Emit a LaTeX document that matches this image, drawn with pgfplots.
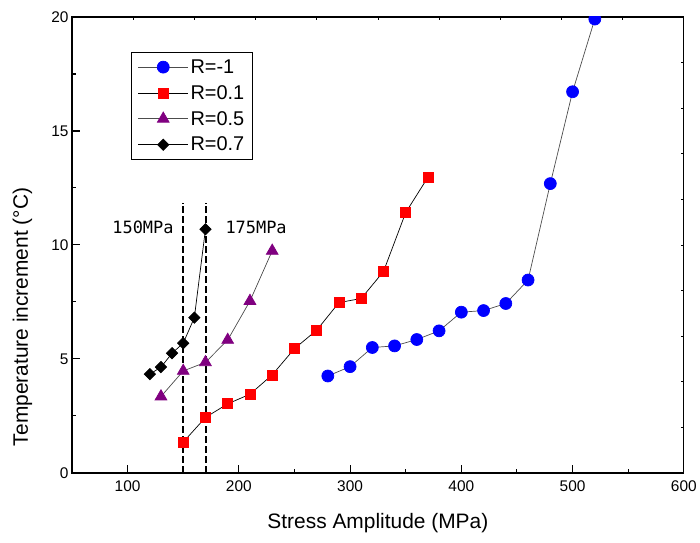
\documentclass[border=0pt]{standalone}
\usepackage{fontspec}
\setmainfont{Liberation Sans}
\newfontfamily\annfont{DejaVu Sans Mono}
\usepackage{pgfplots}
\pgfplotsset{compat=1.18}
\definecolor{mypurple}{RGB}{128,0,128}
\begin{document}
\begin{tikzpicture}
\path (-72bp,-70bp) rectangle (628bp,473bp);
% tick-only axis (top and right small ticks)
\begin{axis}[at={(0,0)},anchor=south west, scale only axis, width=612bp, height=456bp,
  xmin=0,xmax=10,ymin=0,ymax=10, xtick={1,...,9}, ytick={1,...,9},
  xtick pos=right, ytick pos=right, xticklabels={}, yticklabels={},
  tick align=inside, major tick length=3bp, axis line style={draw=none},
  tick style={black, line width=0.6bp}]
\end{axis}
\begin{axis}[at={(0,0)},anchor=south west, scale only axis, width=612bp, height=456bp,
  xmin=50,xmax=600,ymin=0,ymax=20,
  xtick={100,200,...,600}, minor xtick={150,250,...,550},
  ytick={0,5,...,20}, minor ytick={2.5,7.5,...,17.5},
  xtick pos=left, ytick pos=left,
  tick align=inside, major tick length=8bp, minor tick length=4bp,
  axis line style={line width=1.3bp},
  tick style={line width=1.1bp, black},
  ticklabel style={font=\fontsize{15.5}{18}\selectfont},
  /pgf/number format/assume math mode=true,
  xticklabel style={yshift=-4bp},
  xlabel={Stress Amplitude (MPa)}, ylabel={Temperature increment (°C)},
  label style={font=\fontsize{21}{25}\selectfont},
  xlabel style={at={(axis description cs:0.5,-0.11)},anchor=center},
  ylabel style={at={(axis description cs:-0.081,0.342)},anchor=center},
  clip mode=individual, clip marker paths=true,
  legend style={at={(axis description cs:0.0964,0.923)},anchor=north west,
    draw=black, line width=0.9bp, font=\fontsize{20}{24}\selectfont, row sep=6.5bp,
    inner xsep=6.5bp, inner ysep=5bp},
  legend cell align=left,
  legend image code/.code={\draw[mark repeat=2,mark phase=2,#1] plot coordinates {(0bp,0bp) (25bp,0bp) (50bp,0bp)};},
]
\addplot[black, dashed, line width=2bp, dash pattern=on 6.5bp off 3.5bp, forget plot] coordinates {(150,0) (150,11.85)};
\addplot[black, dashed, line width=2bp, dash pattern=on 6.5bp off 3.5bp, forget plot] coordinates {(170.3,0) (170.3,11.85)};

\addplot[black!70, line width=0.7bp, mark=*, mark size=6bp, mark options={draw=blue, fill=blue, solid}] coordinates {
(280,4.25) (300,4.66) (320,5.50) (340,5.57) (360,5.85) (380,6.23) (400,7.05) (420,7.12) (440,7.43) (460,8.46) (480,12.69) (500,16.72) (520,19.91)};
\addlegendentry{R=-1}
\addplot[black, line width=0.7bp, mark=square*, mark size=5bp, mark options={draw=red, fill=red, solid}] coordinates {
(150,1.35) (170,2.43) (190,3.03) (210,3.45) (230,4.30) (250,5.45) (270,6.26) (290,7.47) (310,7.65) (330,8.83) (350,11.42) (370,12.97)};
\addlegendentry{R=0.1}
\addplot[black!70, line width=0.7bp, mark=triangle*, mark size=6.8bp, mark options={draw=mypurple, fill=mypurple, solid}] coordinates {
(130,3.35) (150,4.47) (170,4.85) (190,5.83) (210,7.54) (230,9.74)};
\addlegendentry{R=0.5}
\addplot[black, line width=0.7bp, mark=square*, mark size=4bp, mark options={draw=black, fill=black, rotate=45, solid}] coordinates {
(120,4.33) (130,4.64) (140,5.25) (150,5.69) (160,6.81) (170,10.69)};
\addlegendentry{R=0.7}

\node[font=\annfont\fontsize{17}{20}\selectfont] at (axis cs:113.8,10.75) {150MPa};
\node[font=\annfont\fontsize{17}{20}\selectfont] at (axis cs:215.5,10.75) {175MPa};
\end{axis}
\end{tikzpicture}
\end{document}
